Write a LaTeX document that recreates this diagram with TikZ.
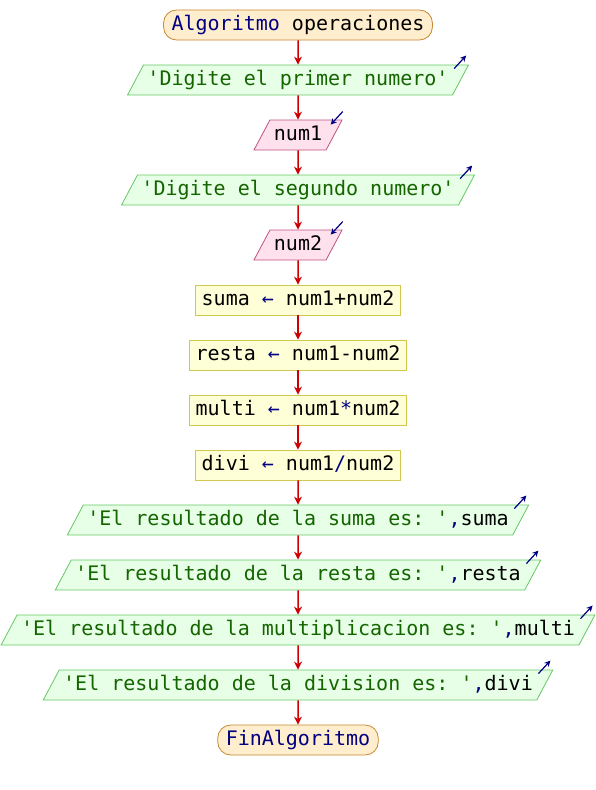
\documentclass[tikz,border=0pt]{standalone}
\usepackage{fontspec}
\setmonofont{DejaVu Sans Mono}
\usetikzlibrary{shapes.geometric, arrows.meta}
\tikzset{>={Stealth[length=8pt, width=8pt]}}

\definecolor{azulk}{RGB}{0,0,128}
\definecolor{verdec}{RGB}{20,100,0}
\definecolor{flecha}{RGB}{204,0,0}
\definecolor{termBorde}{RGB}{200,135,50}
\definecolor{termFondo}{RGB}{255,238,205}
\definecolor{salBorde}{RGB}{100,200,100}
\definecolor{salFondo}{RGB}{230,255,230}
\definecolor{entBorde}{RGB}{190,80,130}
\definecolor{entFondo}{RGB}{255,225,238}
\definecolor{asigBorde}{RGB}{210,200,80}
\definecolor{asigFondo}{RGB}{255,255,215}
\newcommand{\kw}[1]{\textcolor{azulk}{#1}}
\newcommand{\cad}[1]{\textcolor{verdec}{#1}}

\tikzset{
  caja/.style={text height=15pt, text depth=5pt, inner ysep=5pt, line width=0.8pt},
  terminal/.style={caja, draw=termBorde, fill=termFondo, rounded corners=13pt,
    inner xsep=8pt},
  salida/.style={caja, trapezium, trapezium left angle=62, trapezium right angle=118,
    draw=salBorde, fill=salFondo, inner xsep=4pt},
  entrada/.style={salida, draw=entBorde, fill=entFondo},
  asig/.style={caja, draw=asigBorde, fill=asigFondo, inner xsep=6pt},
  paso/.style={->, flecha, line width=1.5pt},
  io/.style={-{Stealth[length=6pt, width=6pt]}, azulk, line width=1.2pt}
}

\begin{document}
\begin{tikzpicture}[x=1pt, y=-1pt, font=\ttfamily\fontsize{20}{24}\selectfont]
\useasboundingbox (0,0) rectangle (596,790);

\node[terminal] (inicio) at (298,25) {\kw{Algoritmo} operaciones};
\node[salida] (msg1) at (298,80) {\cad{'Digite el primer numero'}};
\node[entrada] (leer1) at (298,135) {num1};
\node[salida] (msg2) at (298,190) {\cad{'Digite el segundo numero'}};
\node[entrada] (leer2) at (298,245) {num2};
\node[asig] (asigSuma) at (298,300) {suma \kw{←} num1+num2};
\node[asig] (asigResta) at (298,355) {resta \kw{←} num1-num2};
\node[asig] (asigMulti) at (298,410) {multi \kw{←} num1\kw{*}num2};
\node[asig] (asigDivi) at (298,465) {divi \kw{←} num1\kw{/}num2};
\node[salida] (outSuma) at (298,520) {\cad{'El resultado de la suma es: '}\kw{,}suma};
\node[salida] (outResta) at (298,575) {\cad{'El resultado de la resta es: '}\kw{,}resta};
\node[salida] (outMulti) at (298,630) {\cad{'El resultado de la multiplicacion es: '}\kw{,}multi};
\node[salida] (outDivi) at (298,685) {\cad{'El resultado de la division es: '}\kw{,}divi};
\node[terminal] (fin) at (298,740) {\kw{FinAlgoritmo}};

\foreach \a/\b in {inicio/msg1, msg1/leer1, leer1/msg2, msg2/leer2, leer2/asigSuma,
  asigSuma/asigResta, asigResta/asigMulti, asigMulti/asigDivi, asigDivi/outSuma,
  outSuma/outResta, outResta/outMulti, outMulti/outDivi, outDivi/fin}
  \draw[paso] (\a.south) -- (\b.north);

% flechitas de lectura/escritura
\foreach \n in {msg1, msg2, outSuma, outResta, outMulti, outDivi}
  \draw[io] ([shift={(-15,4)}]\n.top right corner) -- ([shift={(-3,-9)}]\n.top right corner);
\foreach \n in {leer1, leer2}
  \draw[io] ([shift={(0,-8)}]\n.top right corner) -- ([shift={(-12,5)}]\n.top right corner);
\end{tikzpicture}
\end{document}
